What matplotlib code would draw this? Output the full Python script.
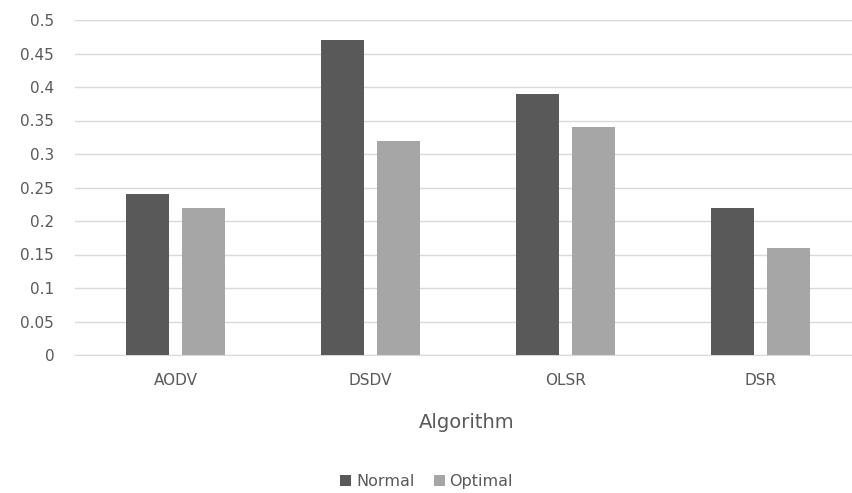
import numpy as np
import matplotlib
matplotlib.use("Agg")
import matplotlib.pyplot as plt

# values
algorithms = ["AODV", "DSDV", "OLSR", "DSR"]
normal = [0.24, 0.47, 0.39, 0.22]
optimal = [0.22, 0.32, 0.34, 0.16]
y_ticks = [0, 0.05, 0.1, 0.15, 0.2, 0.25, 0.3, 0.35, 0.4, 0.45, 0.5]
y_labels = ["0", "0.05", "0.1", "0.15", "0.2", "0.25", "0.3", "0.35", "0.4", "0.45", "0.5"]

text_color = "#595959"
plt.rcParams["font.family"] = ["DejaVu Sans"]

fig = plt.figure(figsize=(8.53, 4.93), dpi=100)
ax = fig.add_axes([75 / 853, 1 - 355 / 493, 783 / 853, 335 / 493])

x = np.arange(len(algorithms))
width = 0.222
gap = 0.067
ax.bar(x - (width + gap) / 2, normal, width, color="#595959", label="Normal", zorder=3)
ax.bar(x + (width + gap) / 2, optimal, width, color="#a6a6a6", label="Optimal", zorder=3)

ax.set_xlim(-0.515, len(algorithms) - 0.5)
ax.set_ylim(0, 0.5)
ax.set_yticks(y_ticks)
ax.set_yticklabels(y_labels)
ax.set_xticks(x)
ax.set_xticklabels(algorithms)
ax.tick_params(axis="both", length=0, colors=text_color, labelsize=11)
ax.tick_params(axis="x", pad=13)
ax.tick_params(axis="y", pad=15)

ax.yaxis.grid(True, color="#d9d9d9", linewidth=1, zorder=0)
for s in ["top", "right", "left"]:
    ax.spines[s].set_visible(False)
ax.spines["bottom"].set_color("#d9d9d9")

ax.set_xlabel("Algorithm", color=text_color, fontsize=14, labelpad=18)

fig.legend(loc="lower center", bbox_to_anchor=(0.5, -0.012), ncol=2, frameon=False,
           fontsize=11.5, labelcolor=text_color, handlelength=0.7, handleheight=0.7,
           handletextpad=0.3, columnspacing=1.2, borderaxespad=0.2)

fig.savefig("out.png", dpi=100)
